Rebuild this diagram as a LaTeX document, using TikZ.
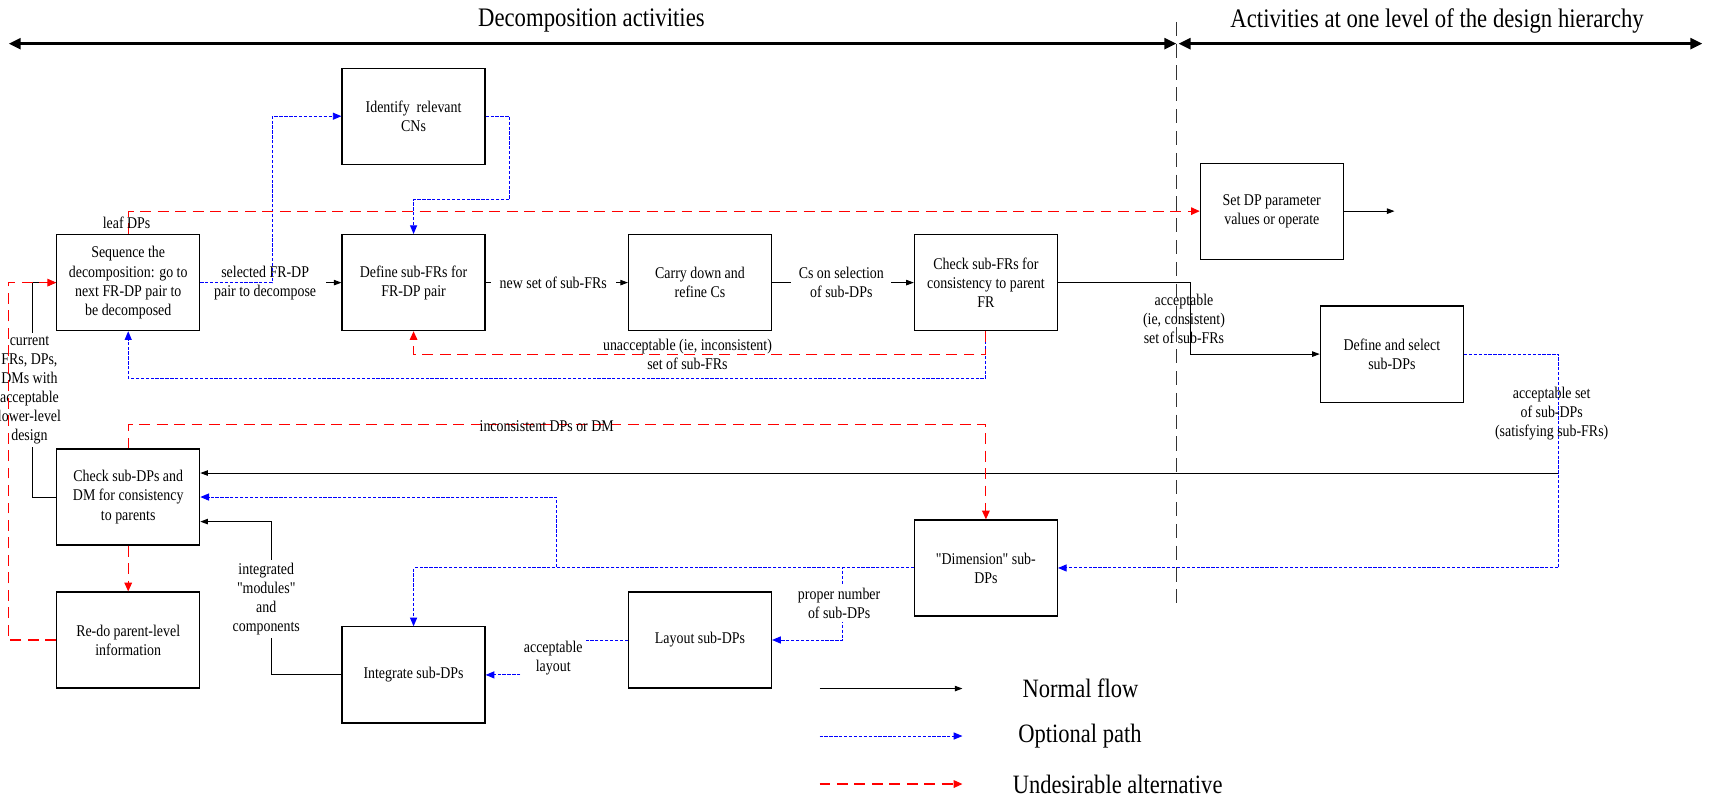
\documentclass[tikz,border=0pt]{standalone}
\usepackage{fontspec}
\setmainfont{Liberation Serif}[FakeStretch=0.85, Ligatures=TeXOff]
\usetikzlibrary{arrows.meta,calc}
\begin{document}
\begin{tikzpicture}[x=1pt,y=-1pt,
  box/.style={draw=black, line width=1.1pt, fill=white, minimum width=131pt, minimum height=88pt,
    align=center, inner sep=2pt, font=\fontsize{15}{17.5}\selectfont},
  lbl/.style={align=center, inner sep=1pt, font=\fontsize{15}{17.5}\selectfont},
  wlbl/.style={lbl, fill=white, inner xsep=5pt, inner ysep=3pt},
  title/.style={inner sep=0pt, font=\fontsize{24.5}{28}\selectfont},
  legtxt/.style={inner sep=0pt, anchor=west, font=\fontsize{24.3}{28}\selectfont},
  flow/.style={draw=black, line width=0.9pt, -{Triangle[length=7pt,width=5pt]}},
  opt/.style={draw=blue, line width=0.9pt, dash pattern=on 3pt off 1.5pt, -{Triangle[length=8pt,width=6.5pt]}},
  undes/.style={draw=red, line width=1pt, dash pattern=on 10pt off 6pt, -{Triangle[length=8pt,width=7pt]}},
  span/.style={line width=2.5pt, {Triangle[length=11pt,width=10pt]}-{Triangle[length=11pt,width=10pt]}},
  sepline/.style={draw=black!80, line width=1.2pt, dash pattern=on 13pt off 7pt}
]
\useasboundingbox (0,0) rectangle (1568,730);

% headings and their extent arrows
\node[title] (tdec) at (542,19) {Decomposition activities};
\node[title] (tlev) at (1317,19) {Activities at one level of the design hierarchy};
\coordinate (sa1) at (8,40);
\coordinate (sa2) at (1078,40);
\coordinate (sb1) at (1080,40);
\coordinate (sb2) at (1560,40);
\draw[span] (sa1) -- (sa2);
\draw[span] (sb1) -- (sb2);
\coordinate (sepT) at (1078,20);
\coordinate (sepB) at (1078,560);
\draw[sepline] (sepT) -- (sepB);

% activity boxes
\node[box] (ident) at (379,106.5) {Identify\ \ relevant\\CNs};
\node[box] (seq) at (117.5,259) {Sequence the\\decomposition: go to\\next FR-DP pair to\\be decomposed};
\node[box] (defFR) at (379,259) {Define sub-FRs for\\FR-DP pair};
\node[box] (carry) at (641.5,259) {Carry down and\\refine Cs};
\node[box] (checkFR) at (903.5,259) {Check sub-FRs for\\consistency to parent\\FR};
\node[box] (setDP) at (1165.5,193.5) {Set DP parameter\\values or operate};
\node[box] (defDP) at (1275.5,324.5) {Define and select\\sub-DPs};
\node[box] (checkDP) at (117.5,455.5) {Check sub-DPs and\\DM for consistency\\to parents};
\node[box] (redo) at (117.5,586.5) {Re-do parent-level\\information};
\node[box] (dim) at (903.5,520.5) {"Dimension" sub-\\DPs};
\node[box] (layout) at (641.5,586.5) {Layout sub-DPs};
\node[box] (integ) at (379,618.5) {Integrate sub-DPs};

% normal flow
\coordinate (setout) at (1278,193.5);
\coordinate (jDP) at (1428,433.5);
\draw[flow] (seq.east) -- (defFR.west);
\draw[flow] (defFR.east) -- (carry.west);
\draw[flow] (carry.east) -- (checkFR.west);
\draw[flow] (checkFR.east) -- ++(121,0) |- (defDP.west);
\draw[flow] (setDP.east) -- (setout);
\draw[flow] (jDP) -- (checkDP.east |- jDP);
\draw[flow] (integ.west) -- ++(-64.5,0) |- ($(checkDP.east)+(0,22.5)$);
\draw[flow] (checkDP.west) -- ++(-22,0) |- (seq.west);

\node[wlbl, inner xsep=9pt] (lsel) at (243,259) {selected FR-DP\\pair to decompose};
\node[wlbl, inner xsep=8pt] (lnew) at (507,259) {new set of sub-FRs};
\node[wlbl, inner xsep=7pt] (lcs) at (771,259) {Cs on selection\\of sub-DPs};
\node[wlbl, inner xsep=1pt] (lcur) at (27,357.5) {current\\FRs, DPs,\\DMs with\\acceptable\\lower-level\\design};
\node[wlbl, inner xsep=2pt] (lint) at (244,549) {integrated\\"modules"\\and\\components};

% optional paths
\draw[opt] (seq.east) -- ++(66,0) |- (ident.west);
\draw[opt] (ident.east) -- ++(22,0) -- ++(0,76.5) -| (defFR.north);
\draw[opt] (checkFR.south) -- ++(0,43) -| (seq.south);
\draw[opt] (defDP.east) -- ++(87,0) |- (dim.east);
\draw[opt] (dim.west) -- ++(-327.5,0) |- (checkDP.east);
\draw[opt] (dim.west) -| (integ.north);
\draw[opt] (dim.west) -- ++(-65,0) |- (layout.east);
\draw[opt] (layout.west) -- ++(-66,0) |- (integ.east);

\node[wlbl, inner xsep=3pt] (lprop) at (769,553) {proper number\\of sub-DPs};
\node[wlbl, inner xsep=3pt] (lacl) at (507,603) {acceptable\\layout};

% undesirable alternatives
\draw[undes] (seq.north) |- (setDP.west);
\draw[undes] (checkFR.south) -- ++(0,21.5) -| (defFR.south);
\draw[undes] (checkDP.north) -- ++(0,-22) -| (dim.north);
\draw[undes] (checkDP.south) -- (redo.north);
\draw[undes] (redo.west) -- ++(-44,0) |- (seq.west);

% labels lying on their lines
\node[lbl] (lleaf) at (116,204) {leaf DPs};
\node[lbl] (lunacc) at (630,325) {unacceptable (ie, inconsistent)\\set of sub-FRs};
\node[lbl] (lincons) at (501,390.5) {inconsistent DPs or DM};
\node[lbl] (lacc) at (1085,292) {acceptable\\(ie, consistent)\\set of sub-FRs};
\node[lbl] (laccset) at (1422,379) {acceptable set\\of sub-DPs\\(satisfying sub-FRs)};

% legend
\coordinate (lgNa) at (751,631);
\coordinate (lgNb) at (882,631);
\coordinate (lgOa) at (751,674.5);
\coordinate (lgOb) at (882,674.5);
\coordinate (lgUa) at (751,718.5);
\coordinate (lgUb) at (882,718.5);
\draw[flow] (lgNa) -- (lgNb);
\draw[opt] (lgOa) -- (lgOb);
\draw[undes] (lgUa) -- (lgUb);
\node[legtxt] (lgN) at (937,631) {Normal flow};
\node[legtxt] (lgO) at (933,674.5) {Optional path};
\node[legtxt] (lgU) at (928,718.5) {Undesirable alternative};
\end{tikzpicture}
\end{document}
